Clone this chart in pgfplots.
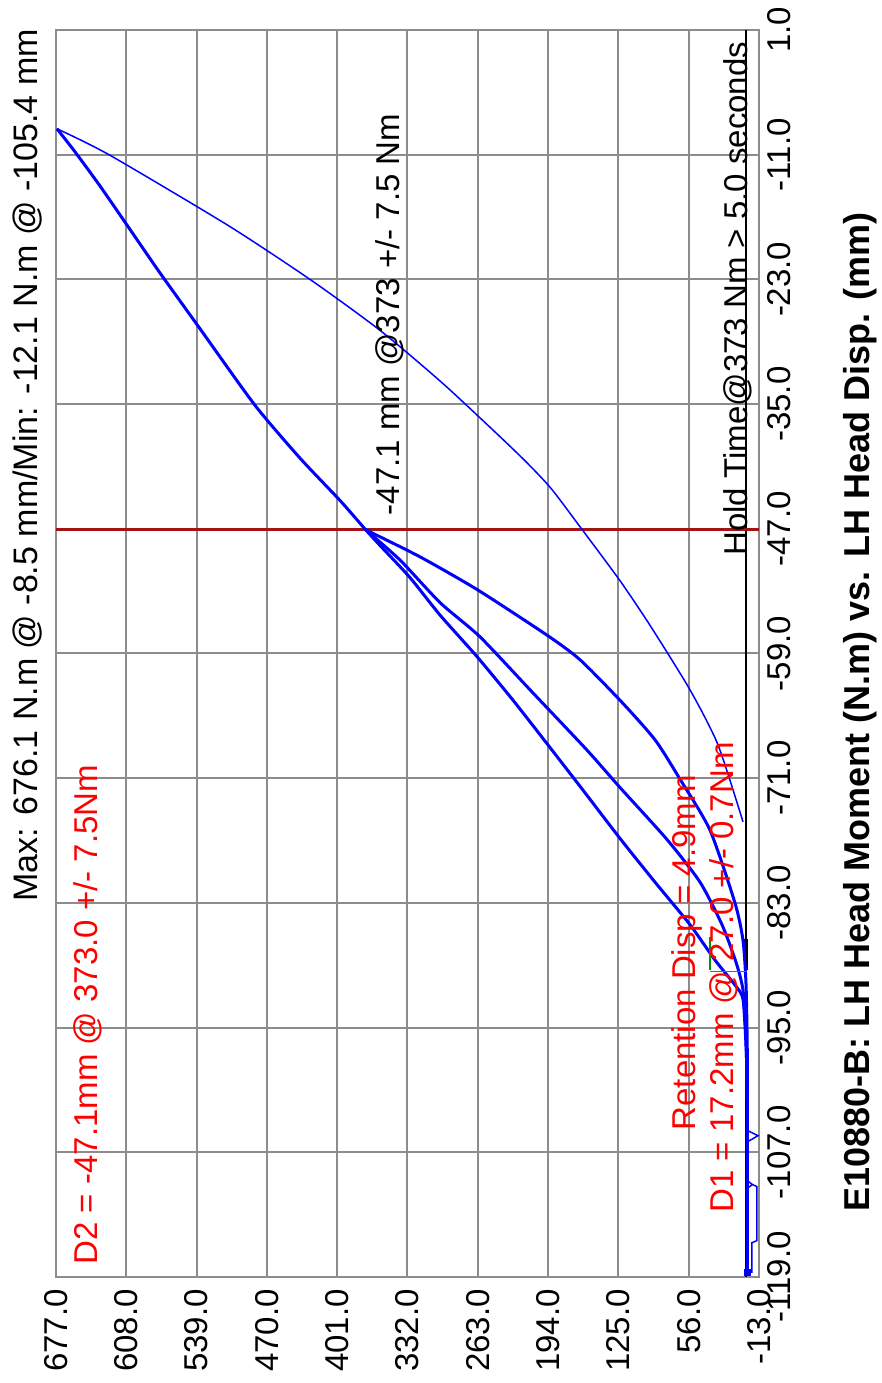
\documentclass[border=0pt]{standalone}
\usepackage{pgfplots}
\pgfplotsset{compat=1.18}
\usepackage{fontspec}
\setmainfont{Liberation Sans}
\definecolor{gridgray}{RGB}{140,140,140}
\definecolor{darkred}{RGB}{160,20,20}
\definecolor{cblue}{RGB}{0,0,255}
\definecolor{retgreen}{RGB}{0,150,0}
\definecolor{retteal}{RGB}{0,140,140}
\begin{document}
\begin{tikzpicture}
\begin{axis}[
  at={(56bp,106bp)}, anchor=south west,
  width=703bp, height=1247bp, scale only axis,
  x dir=reverse,
  xmin=-13, xmax=677, ymin=-119, ymax=1,
  xtick={-13,56,125,194,263,332,401,470,539,608,677},
  xticklabels={-13.0,56.0,125.0,194.0,263.0,332.0,401.0,470.0,539.0,608.0,677.0},
  ytick={-119,-107,-95,-83,-71,-59,-47,-35,-23,-11,1},
  yticklabels={-119.0,-107.0,-95.0,-83.0,-71.0,-59.0,-47.0,-35.0,-23.0,-11.0,1.0},
  yticklabel pos=right,
  xticklabel style={rotate=90, anchor=east, inner sep=0pt},
  yticklabel style={rotate=90, anchor=north, inner sep=0pt},
  xticklabel shift=12bp,
  yticklabel shift=8bp,
  major tick length=0pt,
  grid=major,
  grid style={gridgray, line width=2bp},
  axis line style={gridgray, line width=2bp},
  tick label style={font=\fontsize{33bp}{40bp}\selectfont},
  clip=false,
]
% zero-moment line and D2 line
\addplot[black, line width=2bp] coordinates {(0,1) (0,-119)};
\addplot[black, line width=3.5bp] coordinates {(0,-86.5) (0,-89.5)};
\addplot[darkred, line width=3bp] coordinates {(677,-47.1) (-13,-47.1)};

% main loading curve (thick)
\addplot[cblue, line width=3bp, smooth, tension=0.4] coordinates {
(-1.5,-118.5) (-1.5,-111.8) (-1.5,-102.1) (-0.5,-97.3) (2.7,-92.3) (10.6,-90.9)
(30.2,-88.5) (54.7,-85.1) (89.1,-81.0) (123.4,-76.8) (157.8,-72.4) (194.1,-67.8)
(228.4,-63.5) (263.8,-59.3) (300.1,-55.3) (329.5,-51.7) (359.0,-48.6) (373,-47.1)
(398.0,-44.3) (437.5,-40.2) (481.8,-35.1) (536.0,-27.7) (575.5,-22.3) (605.0,-18.1)
(634.6,-13.9) (659.3,-10.6) (676.1,-8.5)};

% unloading from max (thin)
\addplot[cblue, line width=1.5bp, smooth, tension=0.4] coordinates {
(676.1,-8.5) (625.0,-11.0) (508.2,-17.8) (427.7,-23.0) (359.0,-27.9) (295.2,-33.2)
(224.5,-39.7) (192.1,-43.0) (162.7,-46.8) (123.4,-52.0) (93.9,-56.3) (54.7,-62.5)
(27.2,-67.8) (2.7,-75.2)};

% cycle branches (thick)
\addplot[cblue, line width=3bp, smooth, tension=0.4] coordinates {
(373,-47.1) (319.7,-49.7) (262.8,-52.9) (194.1,-57.3) (162.7,-59.6) (123.4,-63.5)
(89.1,-67.3) (64.5,-71.1) (35.1,-76.0) (10.6,-83.0) (2.7,-86.6) (-0.3,-90.9)
(-1.5,-97.3) (-1.5,-104)};
\addplot[cblue, line width=3bp, smooth, tension=0.4] coordinates {
(373,-47.1) (339.4,-50.0) (300.1,-54.1) (260.8,-57.4) (208.8,-62.8) (155.8,-68.3)
(123.4,-71.9) (77.3,-76.9) (44.9,-81.0) (23.3,-85.1) (9.6,-88.7) (2.7,-91.4)
(-0.3,-96.2) (-1.5,-102.1)};

% small features near the bottom
\addplot[cblue, line width=1.5bp] coordinates {(-1.5,-104.9) (-12.1,-105.4) (-1.5,-106.0)};
\addplot[cblue, line width=1.5bp] coordinates {(-2.5,-109.8) (-6.5,-110.1) (-2.5,-110.4)};
\addplot[cblue, line width=1.5bp] coordinates {(-6.5,-110.1) (-11,-110.3) (-11,-115.5) (-6.1,-115.7) (-6.1,-118.6)};
\addplot[cblue, only marks, mark=square*, mark size=3bp] coordinates {(-1.2,-118.5)};

% retention markers
\addplot[retgreen, line width=1.5bp] coordinates {(35.1,-86.3) (35.1,-89.5)};
\addplot[retteal, line width=1.5bp] coordinates {(35.1,-89.6) (-1.2,-89.6)};

% annotations
\node[rotate=90, anchor=center, inner sep=0pt, font=\fontsize{34bp}{40bp}\selectfont]
  at (axis cs:704.5,-40.9) {Max: 676.1 N.m @ -8.5 mm/Min: -12.1 N.m @ -105.4 mm};
\node[rotate=90, anchor=center, inner sep=0pt, font=\bfseries\fontsize{36bp}{42bp}\selectfont]
  at (axis cs:-112.1,-64.6) {E10880-B: LH Head Moment (N.m) vs. LH Head Disp. (mm)};
\node[rotate=90, anchor=west, inner sep=0pt, text=red, font=\fontsize{33bp}{40bp}\selectfont]
  at (axis cs:645.6,-117.8) {D2 = -47.1mm @ 373.0 +/- 7.5Nm};
\node[rotate=90, anchor=west, inner sep=0pt, text=red, font=\fontsize{33bp}{40bp}\selectfont]
  at (axis cs:57.7,-104.9) {Retention Disp = 4.9mm};
\node[rotate=90, anchor=west, inner sep=0pt, text=red, font=\fontsize{33bp}{40bp}\selectfont]
  at (axis cs:21.4,-112.8) {D1 = 17.2mm @ 27.0 +/- 0.7Nm};
\node[rotate=90, anchor=west, inner sep=0pt, font=\fontsize{33bp}{40bp}\selectfont]
  at (axis cs:7.6,-49.6) {Hold Time@373 Nm > 5.0 seconds};
\node[rotate=90, anchor=west, inner sep=0pt, font=\fontsize{33bp}{40bp}\selectfont]
  at (axis cs:349.2,-45.7) {-47.1 mm @373 +/- 7.5 Nm};
\end{axis}
\pgfresetboundingbox
\path (0,0) rectangle (882bp,1383bp);
\end{tikzpicture}
\end{document}
